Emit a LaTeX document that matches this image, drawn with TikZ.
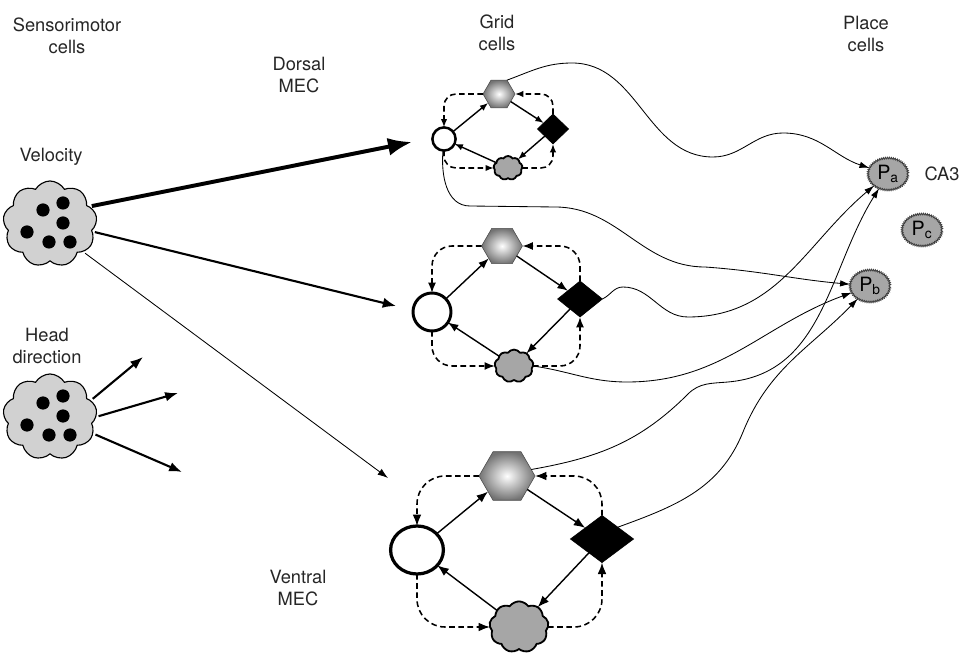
\documentclass[tikz,border=0pt]{standalone}
\usepackage{fontspec}
\setmainfont{TeX Gyre Heros}
\usetikzlibrary{arrows.meta,shapes.geometric,shapes.symbols,decorations.pathmorphing,calc}

\begin{document}
\begin{tikzpicture}
  [x=0.025cm, y=-0.025cm,
   every node/.style={inner sep=0pt, outer sep=0pt},
   lbl/.style={align=center, text=black!85, font=\fontsize{13}{15.6}\selectfont},
   pool/.style={cloud, cloud puffs=9, cloud puff arc=120, aspect=1.1, draw, thick,
                fill=black!18, minimum width=2.35cm, minimum height=2.15cm},
   ring/.style={circle, draw, fill=white},
   hexa/.style={regular polygon, regular polygon sides=6, draw=black!70,
                shading=radial, inner color=white, outer color=black!55},
   diam/.style={diamond, draw, fill=black},
   puff/.style={cloud, cloud puffs=9, cloud puff arc=110, draw, line width=1.3pt, fill=black!35},
   place/.style={ellipse, fill=black!35, minimum width=1cm, minimum height=0.8cm,
                 font=\fontsize{14}{16}\selectfont},
   jag/.style={draw=black!75, line width=0.6pt, decorate,
               decoration={zigzag, segment length=1.4pt, amplitude=0.6pt}},
   link/.style={line width=1pt, -{Latex[length=2.6mm, width=2mm, scale=#1]}},
   back/.style={link=#1, line width=1.1pt, dash pattern=on 4pt off 2.5pt},
   fibre/.style={line width=0.6pt, -{Latex[length=2.5mm, width=1.6mm]}}]
  \useasboundingbox (0,0) rectangle (966,655);

  % column titles
  \node[lbl] (smt)  at (67,36)   {Sensorimotor\\cells};
  \node[lbl] (gridt) at (497,33) {Grid\\cells};
  \node[lbl] (plct) at (866,34)  {Place\\cells};
  \node[lbl] (dors) at (299,75)  {Dorsal\\MEC};
  \node[lbl] (vent) at (298,588) {Ventral\\MEC};
  \node[lbl] (velt) at (51,157)  {Velocity};
  \node[lbl] (hdt)  at (47,346)  {Head\\direction};
  \node[lbl] (ca)   at (942,174) {CA3};

  % sensorimotor pools
  \node[pool] (vel)  at (50,224) {};
  \node[pool] (head) at (50,417) {};
  \foreach \p in {vel,head}
    \foreach \dx/\dy in {-7/-14,13/-21,13/-1,-23/8,-1/18,20/18}
      \fill ($(\p)+(\dx,\dy)$) circle[radius=0.165cm];

  % grid modules, dorsal to ventral
  \node[ring, line width=1.8pt, minimum size=0.58cm] (d-circ) at (444,139) {};
  \node[hexa, minimum size=0.8cm] (d-hex) at (499,94) {};
  \node[diam, minimum width=0.78cm, minimum height=0.75cm] (d-diam) at (553,129) {};
  \node[puff, minimum width=0.72cm, minimum height=0.6cm] (d-cloud) at (508,168) {};

  \node[ring, line width=2.1pt, minimum size=0.95cm] (m-circ) at (432,312) {};
  \node[hexa, minimum size=1.02cm] (m-hex) at (502,246) {};
  \node[diam, minimum width=1.12cm, minimum height=0.9cm] (m-diam) at (580,299) {};
  \node[puff, minimum width=0.97cm, minimum height=0.82cm] (m-cloud) at (514,366) {};

  \node[ring, ellipse, line width=2.3pt, minimum width=1.32cm, minimum height=1.2cm] (v-circ) at (417,550) {};
  \node[hexa, minimum size=1.4cm] (v-hex) at (507,476) {};
  \node[diam, minimum width=1.58cm, minimum height=1.18cm] (v-diam) at (602,539) {};
  \node[puff, minimum width=1.48cm, minimum height=1.28cm] (v-cloud) at (519,627) {};

  \foreach \m/\s/\rc in {d/0.8/3mm,m/1/5mm,v/1.1/7mm} {
    \draw[link=\s] (\m-circ) -- (\m-hex);
    \draw[link=\s] (\m-hex) -- (\m-diam);
    \draw[link=\s] (\m-diam) -- (\m-cloud);
    \draw[link=\s] (\m-cloud) -- (\m-circ);
    \draw[back=\s, rounded corners=\rc] (\m-hex.west) -| (\m-circ.north);
    \draw[back=\s, rounded corners=\rc] (\m-diam.north) |- (\m-hex.east);
    \draw[back=\s, rounded corners=\rc] (\m-cloud.east) -| (\m-diam.south);
    \draw[back=\s, rounded corners=\rc] (\m-circ.south) |- (\m-cloud.west);
  }

  % place cells
  \node[place] (pa) at (888,174) {P\textsubscript{a}};
  \node[place] (pb) at (870,286) {P\textsubscript{b}};
  \node[place] (pc) at (922,230) {P\textsubscript{c}};
  \foreach \p in {pa,pb,pc}
    \draw[jag] (\p.center) ellipse [x radius=0.5cm, y radius=0.4cm];

  % inputs from the sensorimotor cells
  \coordinate (d-in) at (412,142);
  \coordinate (m-in) at (396,306);
  \coordinate (v-in) at (388,478);
  \draw[line width=2.8pt, -{Latex[length=6mm, width=4.5mm]}, shorten <=2pt] (vel.24) -- (d-in);
  \draw[line width=1.5pt, -{Latex[length=3.3mm, width=2.6mm]}, shorten <=2pt] (vel.-10) -- (m-in);
  \draw[line width=0.6pt, -{Latex[length=2.6mm, width=1.8mm]}, shorten <=2pt] (vel.-40) -- (v-in);

  \coordinate (h1) at (143,357);
  \coordinate (h2) at (178,393);
  \coordinate (h3) at (182,472);
  \foreach \a/\t in {22/h1,0/h2,-21/h3}
    \draw[line width=1.5pt, -{Latex[length=3.2mm, width=2.4mm]}, shorten <=2pt] (head.\a) -- (\t);

  % grid to place projections
  \draw[fibre] (d-hex.60) to[out=20,in=180] (572,63) to[out=0,in=180] (713,157)
    to[out=0,in=180] (783,133) to[out=0,in=162] (pa);
  \draw[fibre] (d-circ.-95) to[out=-95,in=180] (470,206) -- (555,207)
    to[out=0,in=180] (705,267) to[out=-4,in=175] (pb);
  \draw[fibre] (m-diam.east) to[out=25,in=180] (623,287) to[out=0,in=180] (688,317)
    to[out=0,in=-140] (pa);
  \draw[fibre] (m-cloud.east) to[out=-8,in=180] (627,382) to[out=0,in=-160] (pb);
  \draw[fibre] (v-hex.15) to[out=10,in=-135] (688,394) to[out=45,in=185] (728,382)
    to[out=5,in=-122] (pa);
  \draw[fibre] (v-diam.north east) to[out=20,in=-112] (743,432) to[out=68,in=-134] (pb);
\end{tikzpicture}
\end{document}
